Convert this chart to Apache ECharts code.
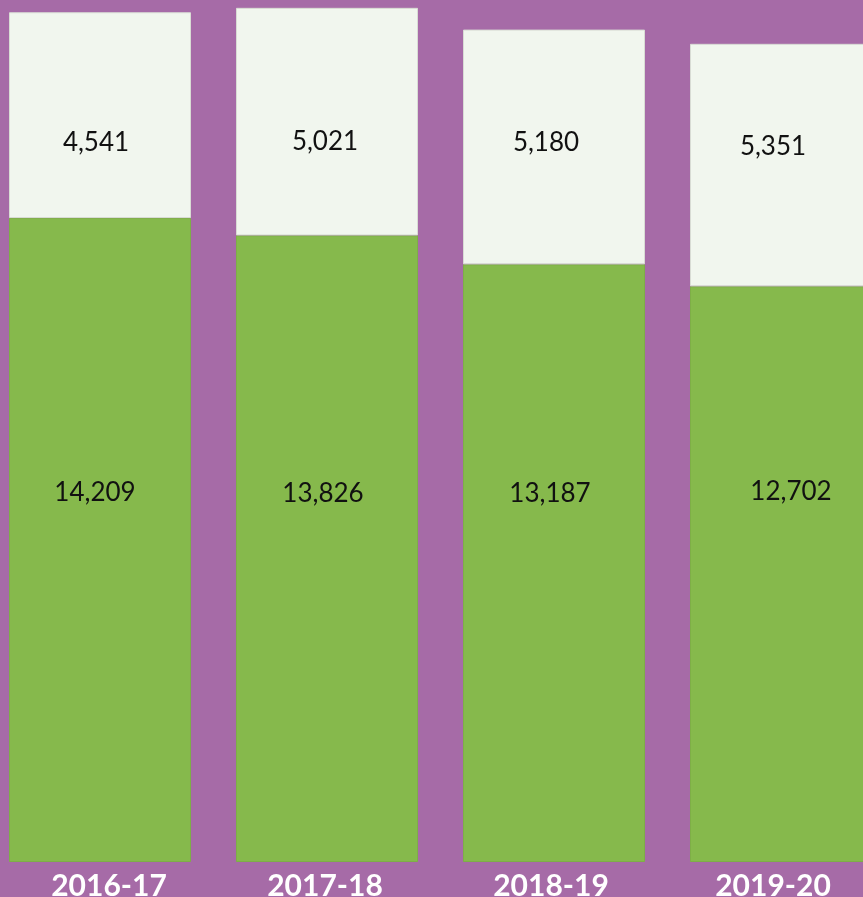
<!DOCTYPE html>
<html>
<head>
<meta charset="utf-8">
<script src="https://cdn.jsdelivr.net/npm/echarts@6/dist/echarts.min.js"></script>
<style>
html,body{margin:0;padding:0;background:#a66ba7;}
#chart{width:863px;height:897px;}
</style>
</head>
<body>
<div id="chart"></div>
<script>
var categories = ['2016-17', '2017-18', '2018-19', '2019-20'];
var bottomValues = [14209, 13826, 13187, 12702];
var topValues = [4541, 5021, 5180, 5351];

// label nudges (style only)
var topOffsets = [[-4, 27], [-2, 20], [-8, -4], [-8, -18]];
var bottomOffsets = [[-5, -47], [-4, -55], [-4, -70], [10, -83]];
var catPads = [[0, 0, 0, 18], [0, 4, 0, 0], [0, 6, 0, 0], [0, 16, 0, 0]];

var fontFam = 'Lato, "DejaVu Sans", sans-serif';

function buildData(values, offsets) {
  return values.map(function (v, i) {
    return { value: v, label: { offset: offsets[i] } };
  });
}

var rich = {};
categories.forEach(function (c, i) {
  rich['c' + i] = {
    color: '#ffffff',
    fontFamily: fontFam,
    fontWeight: 'bold',
    fontSize: 30,
    lineHeight: 30,
    padding: catPads[i]
  };
});

var chart = echarts.init(document.getElementById('chart'));
chart.setOption({
  backgroundColor: '#a66ba7',
  animation: false,
  grid: { left: -13.5, width: 908, top: 0, bottom: 35, containLabel: false, outerBoundsMode: 'none' },
  xAxis: {
    type: 'category',
    data: categories,
    axisLine: { show: false },
    axisTick: { show: false },
    axisLabel: {
      interval: 0,
      margin: 9,
      verticalAlign: 'top',
      formatter: function (v, i) {
        return '{c' + i + '|' + v + '}';
      },
      rich: rich
    }
  },
  yAxis: {
    type: 'value',
    min: 0,
    max: 19020,
    show: false,
    splitLine: { show: false }
  },
  series: [
    {
      type: 'bar',
      stack: 'total',
      barWidth: 182,
      data: buildData(bottomValues, bottomOffsets),
      itemStyle: { color: '#86b94c', borderColor: '#7eae47', borderWidth: 1 },
      label: {
        show: true,
        position: 'inside',
        color: '#111111',
        fontFamily: fontFam,
        fontSize: 26,
        formatter: function (p) { return p.value.toLocaleString('en-US'); }
      }
    },
    {
      type: 'bar',
      stack: 'total',
      barWidth: 182,
      data: buildData(topValues, topOffsets),
      itemStyle: { color: '#f1f6ee', borderColor: '#d8dcd4', borderWidth: 1 },
      label: {
        show: true,
        position: 'inside',
        color: '#111111',
        fontFamily: fontFam,
        fontSize: 26,
        formatter: function (p) { return p.value.toLocaleString('en-US'); }
      }
    }
  ]
});
</script>
</body>
</html>
